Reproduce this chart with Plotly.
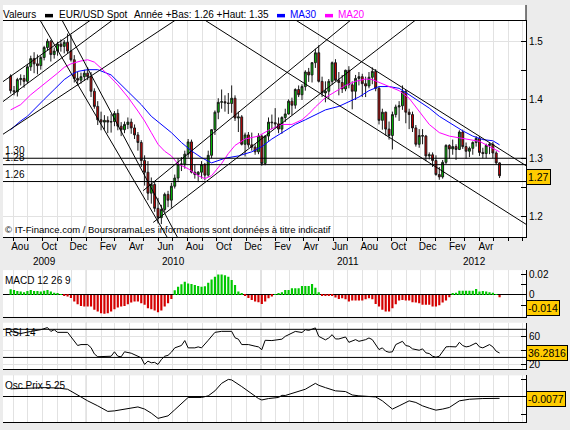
import pandas as pd
import plotly.graph_objects as go

FONT = "Liberation Sans, Arial, sans-serif"
W, H = 570, 430

# ---------------- weekly EUR/USD candles (week starting Monday) ----------------
weeks = pd.date_range("2009-07-27", periods=147, freq="7D")

open_ = [1.441,1.416,1.414,1.435,1.437,1.432,1.457,1.471,1.462,1.459,
         1.473,1.490,1.501,1.478,1.484,1.496,1.492,1.499,1.484,1.469,
         1.437,1.434,1.440,1.446,1.440,1.415,1.389,1.366,1.362,1.365,
         1.362,1.363,1.377,1.355,1.349,1.358,1.362,1.352,1.340,1.327,
         1.296,1.276,1.240,1.255,1.214,1.198,1.212,1.238,1.228,1.252,
         1.266,1.290,1.290,1.307,1.328,1.276,1.272,1.276,1.289,1.271,
         1.305,1.349,1.379,1.396,1.397,1.395,1.394,1.403,1.369,1.371,
         1.324,1.340,1.323,1.319,1.311,1.338,1.291,1.338,1.362,1.361,
         1.359,1.350,1.370,1.376,1.398,1.391,1.418,1.409,1.423,1.448,
         1.443,1.464,1.481,1.432,1.412,1.415,1.432,1.464,1.434,1.430,
         1.419,1.451,1.426,1.415,1.437,1.440,1.428,1.424,1.439,1.449,
         1.420,1.365,1.379,1.350,1.339,1.375,1.388,1.390,1.415,1.379,
         1.375,1.352,1.324,1.339,1.338,1.304,1.306,1.296,1.272,1.268,
         1.293,1.322,1.316,1.320,1.315,1.345,1.320,1.312,1.317,1.327,
         1.334,1.310,1.308,1.322,1.324,1.309,1.292]
high = [1.444,1.424,1.438,1.444,1.443,1.462,1.476,1.482,1.478,1.476,
        1.493,1.505,1.503,1.490,1.500,1.504,1.503,1.514,1.512,1.477,
        1.448,1.447,1.452,1.456,1.448,1.420,1.398,1.380,1.374,1.372,
        1.376,1.381,1.384,1.362,1.363,1.370,1.368,1.358,1.345,1.331,
        1.305,1.295,1.267,1.260,1.232,1.220,1.241,1.244,1.258,1.272,
        1.300,1.302,1.313,1.333,1.332,1.290,1.278,1.295,1.292,1.313,
        1.350,1.382,1.403,1.418,1.408,1.412,1.425,1.408,1.380,1.374,
        1.344,1.345,1.344,1.324,1.343,1.341,1.339,1.370,1.375,1.386,
        1.370,1.372,1.385,1.401,1.404,1.420,1.425,1.427,1.451,1.455,
        1.465,1.488,1.494,1.440,1.432,1.436,1.466,1.470,1.448,1.443,
        1.452,1.458,1.432,1.443,1.448,1.445,1.440,1.448,1.456,1.453,
        1.423,1.385,1.380,1.363,1.380,1.392,1.398,1.425,1.417,1.385,
        1.380,1.357,1.350,1.350,1.340,1.310,1.310,1.305,1.285,1.297,
        1.324,1.324,1.332,1.324,1.348,1.349,1.327,1.320,1.329,1.338,
        1.338,1.318,1.325,1.326,1.328,1.312,1.293]
low = [1.411,1.408,1.406,1.425,1.421,1.428,1.450,1.446,1.444,1.452,
       1.468,1.485,1.466,1.471,1.476,1.483,1.480,1.480,1.466,1.430,
       1.425,1.428,1.433,1.434,1.405,1.385,1.357,1.348,1.349,1.343,
       1.344,1.355,1.348,1.338,1.343,1.350,1.342,1.333,1.313,1.285,
       1.253,1.228,1.222,1.208,1.188,1.187,1.208,1.216,1.215,1.248,
       1.259,1.278,1.282,1.301,1.274,1.265,1.259,1.265,1.262,1.268,
       1.300,1.340,1.367,1.385,1.380,1.376,1.378,1.364,1.345,1.322,
       1.303,1.318,1.313,1.306,1.307,1.287,1.288,1.330,1.350,1.352,
       1.343,1.342,1.362,1.375,1.374,1.385,1.405,1.400,1.416,1.431,
       1.430,1.455,1.430,1.405,1.396,1.402,1.426,1.432,1.408,1.412,
       1.415,1.420,1.384,1.400,1.425,1.405,1.405,1.420,1.427,1.415,
       1.358,1.349,1.339,1.332,1.315,1.370,1.364,1.383,1.360,1.350,
       1.345,1.320,1.318,1.324,1.295,1.298,1.285,1.270,1.263,1.265,
       1.290,1.299,1.306,1.297,1.314,1.316,1.299,1.302,1.306,1.320,
       1.304,1.300,1.300,1.307,1.300,1.289,1.266]
close = [1.416,1.414,1.435,1.437,1.432,1.457,1.471,1.462,1.459,1.473,
         1.490,1.501,1.478,1.484,1.496,1.492,1.499,1.484,1.469,1.437,
         1.434,1.440,1.446,1.440,1.415,1.389,1.366,1.362,1.365,1.362,
         1.363,1.377,1.355,1.349,1.358,1.362,1.352,1.340,1.327,1.296,
         1.276,1.240,1.255,1.214,1.198,1.212,1.238,1.228,1.252,1.266,
         1.290,1.290,1.307,1.328,1.276,1.272,1.276,1.289,1.271,1.305,
         1.349,1.379,1.396,1.397,1.395,1.394,1.403,1.369,1.371,1.324,
         1.340,1.323,1.319,1.311,1.338,1.291,1.338,1.362,1.361,1.359,
         1.350,1.370,1.376,1.398,1.391,1.418,1.409,1.423,1.448,1.443,
         1.464,1.481,1.432,1.412,1.415,1.432,1.464,1.434,1.430,1.419,
         1.451,1.426,1.415,1.437,1.440,1.428,1.424,1.439,1.449,1.420,
         1.365,1.379,1.350,1.339,1.375,1.388,1.390,1.415,1.379,1.375,
         1.352,1.324,1.339,1.338,1.304,1.306,1.296,1.272,1.268,1.293,
         1.322,1.316,1.320,1.315,1.345,1.320,1.312,1.317,1.327,1.334,
         1.310,1.308,1.322,1.324,1.309,1.292,1.270]

# ---------------- moving averages (week index -> value) ----------------
ma20_weeks = [0,3,6,8,11,14,16,18,21,23,25,27,29,32,35,38,40,42,44,46,
              48,50,53,56,58,60,63,65,67,70,74,77,81,84,87,89,91,94,97,100,
              103,106,108,110,113,116,119,122,125,128,131,134,137,140,143,146]
ma20_values = [1.383,1.392,1.409,1.418,1.432,1.446,1.456,1.462,1.467,1.469,
               1.465,1.455,1.444,1.426,1.405,1.381,1.364,1.344,1.324,1.312,
               1.304,1.290,1.282,1.270,1.265,1.270,1.291,1.308,1.322,1.333,
               1.338,1.348,1.358,1.358,1.366,1.376,1.388,1.404,1.414,1.425,
               1.432,1.436,1.435,1.430,1.423,1.416,1.403,1.381,1.358,1.344,
               1.338,1.335,1.332,1.329,1.320,1.311]
ma30_weeks = [0,3,5,7,10,13,16,18,20,23,26,30,33,36,39,42,45,48,51,54,
              57,60,64,68,72,75,78,82,85,88,91,94,98,101,104,107,110,113,116,119,
              122,125,128,131,135,138,141,144,146]
ma30_values = [1.349,1.364,1.372,1.384,1.401,1.418,1.435,1.443,1.449,1.452,
               1.452,1.443,1.426,1.409,1.392,1.372,1.358,1.344,1.327,1.3125,
               1.301,1.292,1.300,1.304,1.311,1.320,1.333,1.348,1.358,1.366,
               1.375,1.383,1.389,1.397,1.405,1.416,1.423,1.423,1.420,1.409,
               1.397,1.386,1.372,1.361,1.347,1.338,1.332,1.330,1.323]

# ---------------- trend lines and horizontal levels ----------------
trend_start_dates = ["2009-06-25","2009-06-25","2009-06-25","2009-09-19","2009-11-08",
                     "2010-04-30","2010-05-21","2010-08-27","2011-03-07"]
trend_start_prices = [1.4223,1.3875,1.3325,1.5474,1.5423,1.2443,1.1898,1.5423,1.5412]
trend_end_dates = ["2010-01-30","2010-03-13","2010-07-26","2010-06-23","2010-07-14",
                   "2011-07-16","2011-11-29","2012-07-16","2012-07-16"]
trend_end_prices = [1.5486,1.5469,1.5477,1.1591,1.1591,1.5426,1.5426,1.1826,1.2832]

level_values = [1.30, 1.289, 1.26]
level_labels = ["1.30", "1.28", "1.26"]

# ---------------- MACD histogram (one bar per week) ----------------
macd_hist = [0.0054,0.0048,0.0038,0.0032,0.0025,0.0038,0.0048,0.0038,0.0038,0.0032,
             0.0041,0.0048,0.0032,0.0022,0.0016,0.0003,-0.0003,-0.0016,-0.0030,-0.0063,
             -0.0089,-0.0105,-0.0110,-0.0110,-0.0110,-0.0143,-0.0159,-0.0175,-0.0180,-0.0175,
             -0.0159,-0.0137,-0.0120,-0.0110,-0.0105,-0.0089,-0.0073,-0.0063,-0.0063,-0.0079,
             -0.0095,-0.0127,-0.0137,-0.0149,-0.0165,-0.0149,-0.0110,-0.0079,-0.0040,0.0045,
             0.0079,0.0102,0.0127,0.0110,0.0105,0.0095,0.0086,0.0079,0.0083,0.0117,
             0.0149,0.0175,0.0197,0.0197,0.0190,0.0175,0.0143,0.0095,0.0032,0.0016,
             -0.0010,-0.0030,-0.0048,-0.0063,-0.0070,-0.0086,-0.0063,-0.0032,-0.0016,0.0003,
             0.0016,0.0025,0.0048,0.0048,0.0063,0.0063,0.0063,0.0086,0.0086,0.0086,
             0.0105,0.0070,0.0025,-0.0005,-0.0010,-0.0005,-0.0010,-0.0025,-0.0038,-0.0032,
             -0.0041,-0.0063,-0.0054,-0.0054,-0.0054,-0.0054,-0.0041,-0.0032,-0.0041,-0.0086,
             -0.0110,-0.0143,-0.0159,-0.0159,-0.0127,-0.0089,-0.0054,-0.0048,-0.0054,-0.0054,
             -0.0070,-0.0073,-0.0079,-0.0095,-0.0095,-0.0095,-0.0110,-0.0110,-0.0100,-0.0073,
             -0.0054,-0.0022,0.0010,0.0022,0.0041,0.0041,0.0041,0.0041,0.0041,0.0057,
             0.0032,0.0038,0.0032,0.0025,0.0022,0.0006,-0.0022]

# ---------------- RSI 14 (week index -> value) ----------------
rsi_weeks = [0,3,6,9,11,12,13,14,17,18,
             20,21,23,24,25,26,28,30,31,32,
             33,34,36,37,39,40,41,42,43,44,
             45,46,47,48,49,51,52,53,55,56,
             57,59,61,63,66,67,68,69,71,73,
             74,75,76,78,80,81,82,84,85,87,
             88,89,91,92,93,94,95,96,97,98,
             100,101,103,104,106,107,108,110,111,112,
             113,114,115,117,118,119,120,122,123,124,
             125,126,127,128,130,131,133,134,135,136,
             137,139,140,141,143,144,145,146]
rsi_values = [67,64,67,69.5,72.5,67,69.5,65.7,65.7,60,
              47,48.3,48.3,44,35,31,31,31.7,38,31.7,
              30.9,38,36,34,29.5,20,24.7,22.4,23,20,
              27,31.7,33,37.4,43.6,47,54,43.6,43.6,45,
              43.6,54.4,65.7,67.1,67.1,58,56,48.3,48.3,46,
              45,41,54.4,54,55,56,60,64,67,65.5,
              69.5,68.5,72,60,57,55,57.7,62.4,56.3,56.3,
              59.1,51.5,55.3,52.9,55.3,57.7,55.3,41.2,43.6,38.8,
              37.4,38,48.3,52.9,46.9,45.9,42.2,40.2,42.2,36.5,
              35.5,31.7,30.3,31.7,45,45.4,45,51.5,46.9,45,
              45.9,50.6,45,43.6,48.3,45,38.8,36.3]
rsi_levels = [70, 30]

# ---------------- Price oscillator 5/25 (week index -> value) ----------------
osc_weeks = [0,5,10,14,17,21,23,26,29,31,
             35,38,40,42,44,46,47,49,51,53,
             57,59,61,63,65,66,69,72,74,75,
             77,80,81,82,85,88,91,92,94,97,
             100,102,104,107,109,111,114,116,119,121,
             123,125,127,129,131,134,137,141,143,146]
osc_values = [0.045,0.050,0.052,0.050,0.043,0.000,-0.022,-0.050,-0.081,-0.078,
              -0.063,-0.056,-0.068,-0.091,-0.120,-0.111,-0.106,-0.072,-0.035,-0.003,
              -0.003,0.006,0.034,0.076,0.098,0.095,0.058,0.015,-0.009,-0.017,
              -0.009,-0.003,0.009,0.008,0.024,0.043,0.076,0.065,0.052,0.034,
              0.030,0.011,0.006,0.002,0.000,-0.022,-0.068,-0.050,-0.022,-0.031,
              -0.050,-0.063,-0.074,-0.068,-0.059,-0.022,-0.013,-0.009,-0.009,-0.008]

# ---------------- axis labels ----------------
month_ticks = pd.date_range("2009-08-01", "2012-07-01", freq="MS")
month_labels = ["Aou","","Oct","","Dec",
                "","Fev","","Avr","","Jun","","Aou","","Oct","","Dec",
                "","Fev","","Avr","","Jun","","Aou","","Oct","","Dec",
                "","Fev","","Avr","","",""]
year_labels = ["2009", "2010", "2011", "2012"]
year_label_dates = ["2009-10-06", "2010-07-02", "2011-07-02", "2012-03-23"]
year_lines = ["2010-01-01", "2011-01-01", "2012-01-01"]
x_range = ["2009-07-11", "2012-07-08 06:00"]

last_price_text, last_price_pos = "1.27", 1.268
macd_text, macd_pos = "-0.014", -0.0124
rsi_text, rsi_pos = "36.2816", 36.0
osc_text, osc_pos = "-0.0077", -0.0128

# ---------------- helpers for pixel placement ----------------
def PX(x):
    return x / W

def PY(y):
    return 1 - y / H

fig = go.Figure()

fig.add_trace(go.Candlestick(
    x=weeks, open=open_, high=high, low=low, close=close,
    increasing=dict(fillcolor="#00c800", line=dict(color="#1a1a1a", width=1)),
    decreasing=dict(fillcolor="#d40000", line=dict(color="#1a1a1a", width=1)),
    whiskerwidth=0, xaxis="x", yaxis="y", hoverinfo="skip"))

fig.add_trace(go.Scatter(x=[weeks[i] for i in ma30_weeks], y=ma30_values, mode="lines",
                         line=dict(color="#0000ff", width=1), xaxis="x", yaxis="y"))
fig.add_trace(go.Scatter(x=[weeks[i] for i in ma20_weeks], y=ma20_values, mode="lines",
                         line=dict(color="#ff00ff", width=1), xaxis="x", yaxis="y"))

tx, ty = [], []
for d0, p0, d1, p1 in zip(trend_start_dates, trend_start_prices, trend_end_dates, trend_end_prices):
    tx += [d0, d1, None]
    ty += [p0, p1, None]
fig.add_trace(go.Scatter(x=tx, y=ty, mode="lines", line=dict(color="black", width=1),
                         xaxis="x", yaxis="y"))

fig.add_trace(go.Bar(x=weeks, y=macd_hist,
                     marker=dict(color=["#00c800" if v >= 0 else "#d40000" for v in macd_hist],
                                 line=dict(width=0)),
                     xaxis="x2", yaxis="y2"))

fig.add_trace(go.Scatter(x=[weeks[i] for i in rsi_weeks], y=rsi_values, mode="lines",
                         line=dict(color="black", width=1), xaxis="x3", yaxis="y3"))
fig.add_trace(go.Scatter(x=[weeks[i] for i in osc_weeks], y=osc_values, mode="lines",
                         line=dict(color="black", width=1), xaxis="x4", yaxis="y4"))

GRID = "#e2e2e2"
tickfont = dict(family=FONT, size=10, color="black")
xdom = [PX(3), PX(526)]
xcommon = dict(type="date", range=x_range, domain=xdom, tickmode="array",
               tickvals=month_ticks, showgrid=True, gridcolor=GRID, gridwidth=1,
               zeroline=False, fixedrange=True, showline=True, linecolor="black",
               linewidth=1)

layout = dict(
    width=W, height=H, margin=dict(l=0, r=0, t=0, b=0),
    paper_bgcolor="#ececec", plot_bgcolor="white", showlegend=False,
    bargap=0.35, boxgap=0.2, font=dict(family=FONT, size=10, color="black"),
    xaxis=dict(xcommon, anchor="y", mirror=True, ticks="outside", ticklen=3,
               tickcolor="black", ticktext=month_labels, tickfont=tickfont,
               ticklabelshift=7, ticklabelstandoff=-3,
               rangeslider=dict(visible=False)),
    xaxis2=dict(xcommon, anchor="y2", matches="x", showticklabels=False, ticks=""),
    xaxis3=dict(xcommon, anchor="y3", matches="x", showticklabels=False, ticks=""),
    xaxis4=dict(xcommon, anchor="y4", matches="x", showticklabels=False, ticks=""),
    yaxis=dict(domain=[PY(237), PY(19)], range=[1.1642, 1.5358], side="right",
               anchor="x", showline=True, linecolor="black", ticks="inside",
               ticklen=5, tickcolor="black", tickvals=[1.2, 1.3, 1.4, 1.5],
               ticktext=["1.2", "1.3", "1.4", "1.5"], tickfont=tickfont,
               minor=dict(tickvals=[1.25, 1.35, 1.45], ticks="inside", ticklen=5,
                          tickcolor="black", showgrid=False),
               showgrid=True, gridcolor=GRID, zeroline=False, fixedrange=True),
    yaxis2=dict(domain=[PY(317), PY(270)], range=[-0.02095, 0.0238], side="right",
                anchor="x2", showline=True, linecolor="black", ticks="inside",
                ticklen=5, tickcolor="black", tickvals=[-0.01, 0, 0.01, 0.02],
                ticktext=["", "0", "", "0.02"], tickfont=tickfont, showgrid=False,
                zeroline=True, zerolinecolor="black", zerolinewidth=1, fixedrange=True),
    yaxis3=dict(domain=[PY(370), PY(323)], range=[12.93, 79.36], side="right",
                anchor="x3", showline=True, linecolor="black", ticks="inside",
                ticklen=5, tickcolor="black", tickvals=[20, 40, 60],
                ticktext=["20", "", "60"], tickfont=tickfont, showgrid=True,
                gridcolor=GRID, zeroline=False, fixedrange=True),
    yaxis4=dict(domain=[PY(423), PY(376)], range=[-0.1406, 0.1206], side="right",
                anchor="x4", showline=True, linecolor="black", ticks="inside",
                ticklen=5, tickcolor="black", tickvals=[-0.1, 0, 0.1],
                ticktext=["", "", ""], showgrid=False, zeroline=True,
                zerolinecolor="black", zerolinewidth=1, fixedrange=True),
)
fig.update_layout(**layout)

shapes = []
# white legend band above the price panel
shapes.append(dict(type="rect", xref="paper", yref="paper", x0=PX(3), x1=PX(526),
                   y0=PY(19), y1=PY(3), fillcolor="white", line=dict(width=0), layer="below"))
shapes.append(dict(type="line", xref="paper", yref="paper", x0=PX(526), x1=PX(526),
                   y0=PY(19), y1=PY(3), line=dict(color="black", width=1)))
# year separators
for xr, yr in [("x", "y"), ("x2", "y2"), ("x3", "y3"), ("x4", "y4")]:
    for d in year_lines:
        shapes.append(dict(type="line", xref=xr, yref=yr + " domain", x0=d, x1=d, y0=0, y1=1,
                           line=dict(color="#a8a8a8", width=1), layer="below"))
# horizontal price levels
for v in level_values:
    shapes.append(dict(type="line", xref="x domain", yref="y", x0=0, x1=1, y0=v, y1=v,
                       line=dict(color="black", width=1)))
for v in rsi_levels:
    shapes.append(dict(type="line", xref="x3 domain", yref="y3", x0=0, x1=1, y0=v, y1=v,
                       line=dict(color="black", width=1)))
# legend swatches
for x0, x1, col in [(45, 53, "black"), (277, 285, "#0000ff"), (325, 333, "#ff00ff")]:
    shapes.append(dict(type="rect", xref="paper", yref="paper", x0=PX(x0), x1=PX(x1),
                       y0=PY(15.5), y1=PY(12), fillcolor=col, line=dict(width=0)))
fig.update_layout(shapes=shapes)

ann = []
def text(x, y, s, color="black", size=10, **kw):
    d = dict(xref="paper", yref="paper", x=PX(x), y=PY(y), text=s, showarrow=False,
             xanchor="left", yanchor="middle", font=dict(family=FONT, size=size, color=color))
    d.update(kw)
    ann.append(d)

text(1.3, 12.5, "Valeurs")
text(57.3, 12.5, "EUR/USD Spot")
text(132, 12.5, "Année +Bas: 1.26 +Haut: 1.35")
text(288, 12.5, "MA30", color="#0000ff")
text(336, 12.5, "MA20", color="#ff00ff")
text(3, 229, "© IT-Finance.com / BoursoramaLes informations sont données à titre indicatif", size=9.5)
text(3, 280.5, "MACD 12 26 9")
text(3, 333, "RSI 14")
text(3, 386.5, "Osc Prix 5 25")

for v, s in zip(level_values, level_labels):
    ann.append(dict(xref="paper", yref="y", x=PX(3), y=v, text=s, showarrow=False,
                    xanchor="left", yanchor="bottom", font=dict(family=FONT, size=10)))

for yl, d in zip(year_labels, year_label_dates):
    ann.append(dict(xref="x", yref="paper", x=d, y=PY(261), text=yl, showarrow=False,
                    xanchor="center", yanchor="middle", font=dict(family=FONT, size=10)))

for s, yv, yr in [(last_price_text, last_price_pos, "y"), (macd_text, macd_pos, "y2"),
                  (rsi_text, rsi_pos, "y3"), (osc_text, osc_pos, "y4")]:
    ann.append(dict(xref="paper", yref=yr, x=PX(526), y=yv, text=s, showarrow=False,
                    xanchor="left", yanchor="middle", bgcolor="#ffcc00",
                    bordercolor="black", borderwidth=1, borderpad=1,
                    font=dict(family=FONT, size=10.5, color="black")))
fig.update_layout(annotations=ann)

fig.write_html("out.html", config={"displayModeBar": False},
               post_script="document.body.style.margin='0px';")
